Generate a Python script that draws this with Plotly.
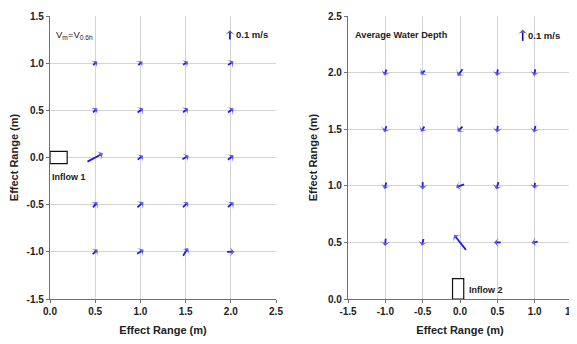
import plotly.graph_objects as go

# ---------------- data ----------------
# Left panel: Inflow 1, V_m = V_0.6h
left_xs = [0.5, 1.0, 1.5, 2.0]
left_ys = [1.0, 0.5, 0.0, -0.5, -1.0]
# velocity components (m/s), rows follow left_ys, columns follow left_xs
left_u = [
    [0.045, 0.044, 0.055, 0.060],
    [0.048, 0.060, 0.055, 0.060],
    [0.170, 0.060, 0.070, 0.063],
    [0.048, 0.066, 0.059, 0.063],
    [0.055, 0.074, 0.055, 0.081],
]
left_v = [
    [0.040, 0.042, 0.035, 0.040],
    [0.042, 0.045, 0.042, 0.045],
    [0.088, 0.045, 0.039, 0.046],
    [0.056, 0.056, 0.053, 0.053],
    [0.050, 0.042, 0.081, 0.000],
]

# Right panel: Inflow 2, average water depth
right_xs = [-1.0, -0.5, 0.0, 0.5, 1.0]
right_ys = [2.0, 1.5, 1.0, 0.5]
right_u = [
    [-0.030, -0.058, -0.067, -0.013, -0.018],
    [-0.030, -0.045, -0.067, -0.013, -0.022],
    [-0.027, 0.000, -0.110, -0.031, -0.009],
    [-0.009, -0.022, -0.160, -0.089, -0.080],
]
right_v = [
    [-0.053, -0.035, -0.059, -0.059, -0.059],
    [-0.053, -0.047, -0.044, -0.059, -0.059],
    [-0.059, -0.065, -0.024, -0.065, -0.050],
    [-0.065, -0.059, 0.133, 0.000, -0.012],
]

ref_speed = 0.1  # m/s reference arrow
scale = 1.0      # metres of plot per m/s

left_x_ticks = [0.0, 0.5, 1.0, 1.5, 2.0, 2.5]
left_y_ticks = [-1.5, -1.0, -0.5, 0.0, 0.5, 1.0, 1.5]
right_x_ticks = [-1.5, -1.0, -0.5, 0.0, 0.5, 1.0, 1.5]
right_y_ticks = [0.0, 0.5, 1.0, 1.5, 2.0, 2.5]

# ---------------- figure ----------------
OFF = 8                      # page body margin
W, H = 577 - OFF, 344 - OFF  # figure size so that it fits the window
ARROW = "#1a1aee"
REFCOL = "#10109a"
FONT = "Liberation Sans, Arial, sans-serif"


def px(x):   # window x pixel -> paper fraction
    return (x - OFF) / W


def py(y):   # window y pixel -> paper fraction (from bottom)
    return 1 - (y - OFF) / H


fig = go.Figure()


def add_arrow(xa, ya, x0, y0, x1, y1, color=ARROW, width=1.8, head=7):
    fig.add_trace(go.Scatter(
        x=[x0, x1], y=[y0, y1], xaxis=xa, yaxis=ya,
        mode="lines+markers", showlegend=False, hoverinfo="skip",
        line=dict(color=color, width=width),
        marker=dict(symbol="arrow-wide", size=[0, head], angleref="previous",
                    color=color, line=dict(width=0)),
    ))


def add_field(xs, ys, us, vs, xa, ya):
    for i, yy in enumerate(ys):
        for j, xx in enumerate(xs):
            u = us[i][j] * scale
            v = vs[i][j] * scale
            add_arrow(xa, ya, xx - u / 2, yy - v / 2, xx + u / 2, yy + v / 2)


add_field(left_xs, left_ys, left_u, left_v, "x", "y")
add_field(right_xs, right_ys, right_u, right_v, "x2", "y2")

# reference arrows
add_arrow("x", "y", 1.99, 1.30 - ref_speed * scale / 2, 1.99, 1.30 + ref_speed * scale / 2,
          color=REFCOL, width=1.6)
add_arrow("x2", "y2", 0.84, 2.33 - ref_speed * scale / 2, 0.84, 2.33 + ref_speed * scale / 2,
          color=REFCOL, width=1.6)

txt = dict(family=FONT, size=9.5, color="#222222")
annotations = [
    dict(xref="x", yref="y", x=2.03, y=1.30, text="<b>0.1 m/s</b>", showarrow=False,
         xanchor="left", yanchor="middle", font=txt),
    dict(xref="x2", yref="y2", x=0.88, y=2.33, text="<b>0.1 m/s</b>", showarrow=False,
         xanchor="left", yanchor="middle", font=txt),
    dict(xref="x", yref="y", x=0.04, y=1.30,
         text="V<sub>m</sub>=V<sub>0.6h</sub>", showarrow=False,
         xanchor="left", yanchor="middle", font=dict(family=FONT, size=9.5, color="#222222")),
    dict(xref="x2", yref="y2", x=-1.43, y=2.33, text="<b>Average Water Depth</b>",
         showarrow=False, xanchor="left", yanchor="middle",
         font=dict(family=FONT, size=9.2, color="#222222")),
    dict(xref="x", yref="y", x=0.0, y=-0.21, text="<b>Inflow 1</b>", showarrow=False,
         xanchor="left", yanchor="middle", font=dict(family=FONT, size=9, color="#222222")),
    dict(xref="x2", yref="y2", x=0.10, y=0.08, text="<b>Inflow 2</b>", showarrow=False,
         xanchor="left", yanchor="middle", font=dict(family=FONT, size=9, color="#222222")),
]

# inflow boxes
shapes = [
    dict(type="rect", xref="x", yref="y", x0=0.0, x1=0.19, y0=-0.065, y1=0.065,
         line=dict(color="#111111", width=1.2), fillcolor="white", layer="above"),
    dict(type="rect", xref="x2", yref="y2", x0=-0.10, x1=0.05, y0=0.0, y1=0.18,
         line=dict(color="#111111", width=1.2), fillcolor="white", layer="above"),
]

tickfont = dict(family=FONT, size=10, color="#222222")
titlefont = dict(family=FONT, size=11, color="#222222")


def axis(domain, rng, ticks, title, anchor, standoff):
    return dict(
        domain=domain, range=rng, tickvals=ticks,
        ticktext=[f"<b>{t:.1f}</b>" for t in ticks],
        showgrid=True, gridcolor="#d4d4d4", gridwidth=1,
        zeroline=False, showline=True, linecolor="#707070", linewidth=1.3,
        ticks="outside", ticklen=3, tickcolor="#707070",
        tickfont=tickfont, anchor=anchor, automargin=False,
        ticklabeloverflow="allow",
        title=dict(text=f"<b>{title}</b>", font=titlefont, standoff=standoff),
        fixedrange=True,
    )


xd1 = [px(50), px(276)]
xd2 = [px(348), px(572)]
yd = [py(299), py(16)]

fig.update_layout(
    width=W, height=H,
    margin=dict(l=0, r=0, t=0, b=0, autoexpand=False),
    paper_bgcolor="white", plot_bgcolor="white",
    showlegend=False,
    xaxis=axis(xd1, [0, 2.5], left_x_ticks, "Effect Range (m)", "y", 10),
    yaxis=axis(yd, [-1.5, 1.5], left_y_ticks, "Effect Range (m)", "x", 11),
    xaxis2=axis(xd2, [-1.5, 1.5], right_x_ticks, "Effect Range (m)", "y2", 10),
    yaxis2=axis(yd, [0, 2.5], right_y_ticks, "Effect Range (m)", "x2", 8),
    annotations=annotations,
    shapes=shapes,
)

fig.write_html("out.html")
